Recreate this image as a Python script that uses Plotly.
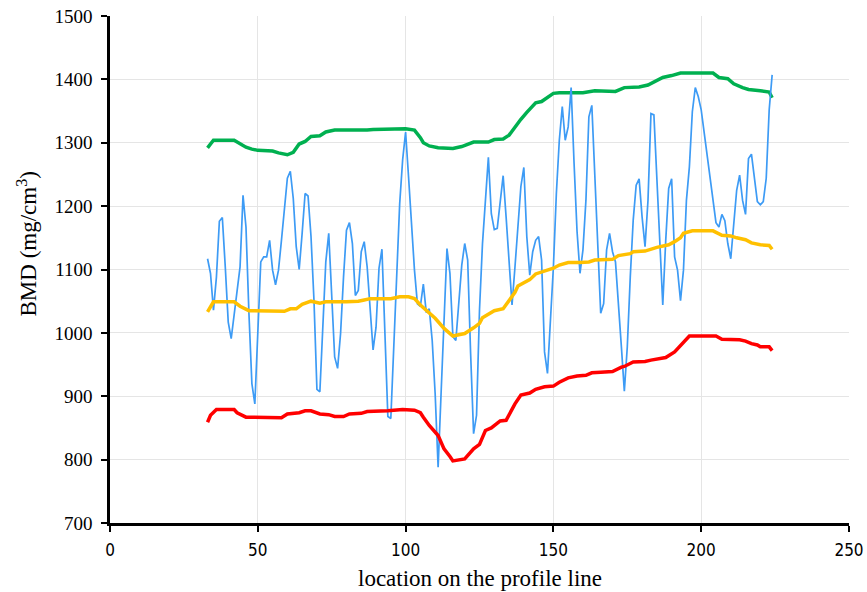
import plotly.graph_objects as go

# Measured BMD profile (blue)
meas_x = list(range(33, 225))
meas_y = [1117, 1094, 1036, 1088, 1176, 1182, 1104, 1017, 991, 1031,
          1062, 1104, 1217, 1167, 1031, 920, 888, 994, 1112, 1120,
          1120, 1146, 1099, 1076, 1099, 1146, 1199, 1244, 1255, 1212,
          1136, 1100, 1157, 1220, 1216, 1152, 1052, 911, 907, 1009,
          1112, 1157, 1062, 962, 944, 999, 1088, 1162, 1174, 1141,
          1059, 1067, 1128, 1144, 1104, 1031, 973, 1009, 1102, 1132,
          999, 868, 865, 978, 1115, 1204, 1273, 1317, 1246, 1167,
          1099, 1046, 1042, 1077, 1032, 1038, 988, 904, 788, 904,
          1028, 1133, 1094, 994, 988, 1052, 1107, 1141, 1115, 967,
          841, 870, 1036, 1140, 1209, 1277, 1188, 1163, 1165, 1204,
          1248, 1183, 1115, 1044, 1104, 1167, 1231, 1261, 1152, 1091,
          1128, 1146, 1152, 1115, 970, 936, 1020, 1104, 1220, 1304,
          1357, 1304, 1325, 1387, 1267, 1160, 1094, 1131, 1209, 1341,
          1359, 1252, 1157, 1031, 1046, 1131, 1157, 1128, 1112, 1052,
          978, 908, 978, 1088, 1178, 1233, 1243, 1183, 1136, 1209,
          1346, 1344, 1241, 1157, 1044, 1146, 1228, 1243, 1120, 1099,
          1051, 1099, 1209, 1262, 1349, 1387, 1373, 1352, 1317, 1286,
          1246, 1209, 1174, 1167, 1187, 1177, 1141, 1117, 1167, 1225,
          1249, 1209, 1187, 1275, 1282, 1241, 1207, 1202, 1207, 1244,
          1352, 1407]

# Upper band (green)
upper_x = [33, 34, 35, 42, 44, 46, 48, 50, 55, 57, 60, 62, 64, 66, 68, 71, 73, 76,
           87, 89, 100, 103, 105, 106, 108, 111, 116, 119, 123, 128, 130, 133, 135,
           137, 139, 141, 143, 144, 146, 148, 150, 152, 160, 164, 171, 174, 179, 182,
           185, 187, 190, 193, 204, 206, 209, 211, 214, 216, 220, 223, 224]
upper_y = [1292, 1299, 1304, 1304, 1299, 1293, 1290, 1288, 1287, 1284, 1281, 1285,
           1298, 1302, 1310, 1311, 1317, 1320, 1320, 1321, 1322, 1320, 1308, 1300,
           1295, 1292, 1291, 1294, 1301, 1301, 1305, 1306, 1312, 1325, 1337, 1348,
           1358, 1363, 1365, 1371, 1378, 1379, 1379, 1382, 1381, 1387, 1388, 1391,
           1398, 1403, 1406, 1410, 1410, 1403, 1401, 1393, 1387, 1384, 1382, 1380, 1371]

# Mean (yellow)
mean_x = [33, 34, 35, 42, 44, 47, 54, 59, 61, 63, 65, 68, 71, 73, 80, 84, 86, 88,
          95, 98, 101, 103, 105, 108, 110, 113, 116, 118, 120, 123, 125, 126, 128,
          130, 133, 135, 137, 138, 142, 144, 147, 150, 152, 155, 159, 162, 164, 170,
          172, 176, 177, 181, 185, 189, 191, 193, 194, 197, 204, 207, 210, 212, 215,
          217, 220, 223, 224]
mean_y = [1033, 1041, 1049, 1049, 1042, 1035, 1034, 1034, 1038, 1038, 1045, 1050,
          1047, 1049, 1049, 1050, 1052, 1054, 1054, 1057, 1057, 1054, 1044, 1031,
          1023, 1007, 995, 997, 999, 1008, 1015, 1024, 1029, 1035, 1038, 1050, 1064,
          1074, 1084, 1093, 1097, 1102, 1107, 1111, 1111, 1112, 1115, 1116, 1122,
          1125, 1128, 1129, 1135, 1139, 1144, 1150, 1157, 1161, 1161, 1154, 1153,
          1150, 1147, 1142, 1139, 1138, 1132]

# Lower band (red)
lower_x = [33, 34, 36, 42, 43, 46, 58, 60, 64, 66, 68, 71, 74, 76, 79, 81, 85, 87,
           94, 97, 99, 103, 105, 106, 108, 111, 113, 115, 116, 120, 121, 123, 125,
           127, 129, 130, 132, 134, 136, 137, 139, 142, 144, 147, 150, 152, 155, 158,
           161, 163, 166, 170, 173, 174, 177, 181, 183, 185, 188, 191, 194, 196, 205,
           207, 213, 215, 217, 219, 220, 223, 224]
lower_y = [859, 870, 879, 879, 874, 867, 866, 872, 874, 877, 877, 872, 871, 868,
           868, 872, 873, 876, 877, 878, 879, 878, 874, 867, 854, 838, 817, 805, 798,
           801, 807, 817, 824, 846, 850, 854, 861, 862, 879, 888, 902, 905, 911, 915,
           916, 922, 929, 932, 933, 937, 938, 939, 946, 947, 954, 955, 957, 959, 961,
           970, 985, 995, 995, 990, 989, 987, 983, 981, 978, 978, 972]

x_ticks = [0, 50, 100, 150, 200, 250]
y_ticks = [700, 800, 900, 1000, 1100, 1200, 1300, 1400, 1500]

SERIF = "Liberation Serif, Times New Roman, serif"
NARROW = "Liberation Sans Narrow, Arial Narrow, DejaVu Sans Condensed, sans-serif"

fig = go.Figure()
fig.add_trace(go.Scatter(x=upper_x, y=upper_y, mode="lines",
                         line=dict(color="#00B050", width=3.5), showlegend=False))
fig.add_trace(go.Scatter(x=meas_x, y=meas_y, mode="lines",
                         line=dict(color="#3D9BF5", width=1.7), showlegend=False))
fig.add_trace(go.Scatter(x=mean_x, y=mean_y, mode="lines",
                         line=dict(color="#FFC000", width=3.5), showlegend=False))
fig.add_trace(go.Scatter(x=lower_x, y=lower_y, mode="lines",
                         line=dict(color="#FF0000", width=3.5), showlegend=False))

fig.update_layout(
    width=867, height=592,
    margin=dict(l=110, r=18, t=16, b=69),
    paper_bgcolor="white", plot_bgcolor="white",
    xaxis=dict(
        range=[0, 250], tickvals=x_ticks, ticktext=[str(v) for v in x_ticks],
        automargin=False,
        showgrid=True, gridcolor="#E5E5E5", gridwidth=1, zeroline=False,
        showline=True, linecolor="black", linewidth=2.5,
        ticks="outside", ticklen=6, tickwidth=2, tickcolor="black",
        ticklabelstandoff=4, ticklabeloverflow="allow",
        tickfont=dict(family=NARROW, size=17, color="black"),
    ),
    yaxis=dict(
        range=[700, 1500], tickvals=y_ticks, ticktext=[str(v) for v in y_ticks],
        automargin=False,
        showgrid=True, gridcolor="#E5E5E5", gridwidth=1, zeroline=False,
        showline=True, linecolor="black", linewidth=2.5,
        ticks="outside", ticklen=6, tickwidth=2, tickcolor="black",
        ticklabelstandoff=5, ticklabeloverflow="allow",
        tickfont=dict(family=SERIF, size=19, color="black"),
    ),
    annotations=[
        dict(text="location on the profile line", xref="paper", yref="paper",
             x=0.5, y=0, yshift=-55, xanchor="center", yanchor="middle",
             showarrow=False, font=dict(family=SERIF, size=23, color="black")),
        dict(text="BMD (mg/cm<sup>3</sup>)", xref="paper", yref="paper",
             x=0, y=0.5, xshift=-83, yshift=25, xanchor="center", yanchor="middle",
             textangle=-90, showarrow=False,
             font=dict(family=SERIF, size=23, color="black")),
    ],
)

fig.write_html("out.html", config={"displayModeBar": False},
               post_script="document.body.style.margin='0';document.body.style.overflow='hidden';")
